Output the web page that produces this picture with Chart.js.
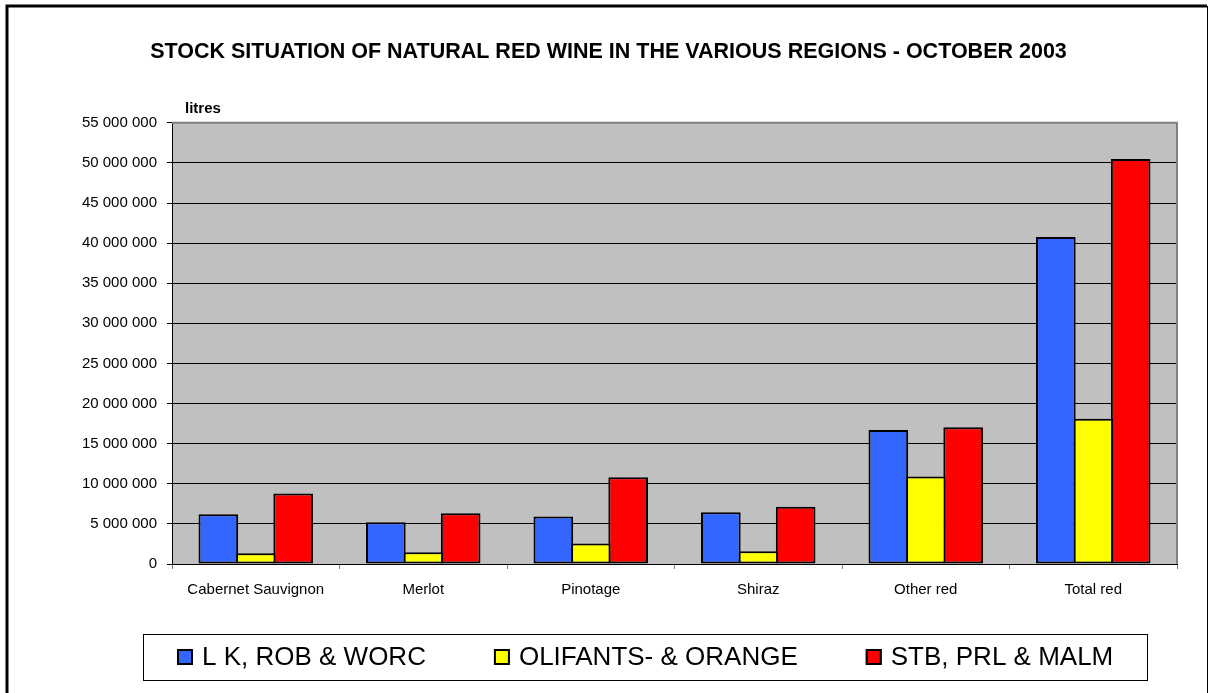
<!DOCTYPE html>
<html>
<head>
<meta charset="utf-8">
<title>Stock situation of natural red wine - October 2003</title>
<script src="https://cdn.jsdelivr.net/npm/chart.js@4/dist/chart.umd.min.js"></script>
<style>
  html, body { margin: 0; padding: 0; background: #fff; }
  canvas { display: block; }
</style>
</head>
<body>
<canvas id="wineChart" width="1209" height="693"></canvas>
<script>
// categories and values (litres)
const categories = ['Cabernet Sauvignon', 'Merlot', 'Pinotage', 'Shiraz', 'Other red', 'Total red'];
const seriesNames = ['L K, ROB & WORC', 'OLIFANTS- & ORANGE', 'STB, PRL & MALM'];
const lkRobWorc = [6200000, 5200000, 5930000, 6460000, 16700000, 40750000];
const olifantsOrange = [1330000, 1450000, 2550000, 1590000, 10900000, 18100000];
const stbPrlMalm = [8790000, 6330000, 10800000, 7130000, 17050000, 50500000];
const yTicks = [0, 5000000, 10000000, 15000000, 20000000, 25000000, 30000000, 35000000, 40000000, 45000000, 50000000, 55000000];

const FONT = '"Liberation Sans", Arial, sans-serif';
const seriesColors = ['#3366ff', '#ffff00', '#ff0000'];

function spaced(v) {
  return String(v).replace(/\B(?=(\d{3})+(?!\d))/g, ' ');
}

// grey plot background, frame, "litres" label and the boxed legend
const decor = {
  id: 'decor',
  beforeDraw(chart) {
    const { ctx, chartArea: a } = chart;
    ctx.save();
    ctx.fillStyle = '#c0c0c0';
    ctx.fillRect(a.left, a.top, a.right - a.left, a.bottom - a.top);
    ctx.restore();
  },
  afterDraw(chart) {
    const { ctx, chartArea: a } = chart;
    ctx.save();
    // plot border
    ctx.strokeStyle = '#808080';
    ctx.lineWidth = 2;
    ctx.beginPath();
    ctx.moveTo(a.left, a.top);
    ctx.lineTo(a.right, a.top);
    ctx.lineTo(a.right, a.bottom);
    ctx.stroke();

    // outer frame
    ctx.strokeStyle = '#000';
    ctx.lineWidth = 3;
    ctx.beginPath();
    ctx.moveTo(7, 700);
    ctx.lineTo(7, 6);
    ctx.lineTo(1207, 6);
    ctx.stroke();
    ctx.lineWidth = 1;
    ctx.beginPath();
    ctx.moveTo(1207.5, 6);
    ctx.lineTo(1207.5, 700);
    ctx.stroke();

    // unit label
    ctx.fillStyle = '#000';
    ctx.font = 'bold 15px ' + FONT;
    ctx.textBaseline = 'middle';
    ctx.textAlign = 'left';
    ctx.fillText('litres', 185, 109);

    // legend box
    ctx.lineWidth = 1;
    ctx.strokeStyle = '#000';
    ctx.strokeRect(143.5, 634.5, 1004, 46);
    ctx.font = '26px ' + FONT;
    let x = 177;
    chart.data.datasets.forEach(ds => {
      ctx.fillStyle = ds.backgroundColor;
      ctx.fillRect(x, 649, 16, 16);
      ctx.lineWidth = 2;
      ctx.strokeStyle = '#000';
      ctx.strokeRect(x + 1, 650, 14, 14);
      ctx.fillStyle = '#000';
      ctx.fillText(ds.label, x + 25, 658);
      x += 25 + ctx.measureText(ds.label).width + 68;
    });
    ctx.restore();
  }
};

const mkSet = (i, data) => ({
  label: seriesNames[i],
  data: data,
  backgroundColor: seriesColors[i],
  borderColor: '#000',
  borderWidth: 2,
  borderSkipped: false,
  categoryPercentage: 0.67,
  barPercentage: 1.06
});

new Chart(document.getElementById('wineChart'), {
  type: 'bar',
  data: {
    labels: categories,
    datasets: [mkSet(0, lkRobWorc), mkSet(1, olifantsOrange), mkSet(2, stbPrlMalm)]
  },
  options: {
    responsive: false,
    animation: false,
    devicePixelRatio: 1,
    layout: { padding: { left: 8, right: 0, top: 0, bottom: 94 } },
    plugins: {
      legend: { display: false },
      tooltip: { enabled: false },
      title: {
        display: true,
        text: 'STOCK SITUATION OF NATURAL RED WINE IN THE VARIOUS REGIONS - OCTOBER 2003',
        color: '#000',
        font: { family: FONT, size: 21.5, weight: 'bold' },
        padding: { top: 39, bottom: 58 }
      }
    },
    scales: {
      x: {
        grid: { drawOnChartArea: false, tickLength: 5, color: '#808080' },
        border: { color: '#000' },
        ticks: { color: '#000', padding: 12, font: { family: FONT, size: 15 } },
        afterFit: s => { s.height = 35; }
      },
      y: {
        min: 0,
        max: 55000000,
        afterBuildTicks: s => { s.ticks = yTicks.map(v => ({ value: v })); },
        grid: { color: '#000', lineWidth: 1, tickLength: 5 },
        border: { color: '#000' },
        ticks: { color: '#000', padding: 10, font: { family: FONT, size: 15 }, callback: v => spaced(v) },
        afterFit: s => { s.width = 164; }
      },
      pad: {
        position: 'right',
        display: true,
        ticks: { display: false },
        grid: { display: false },
        border: { display: false },
        afterFit: s => { s.width = 32; }
      }
    }
  },
  plugins: [decor]
});
</script>
</body>
</html>
